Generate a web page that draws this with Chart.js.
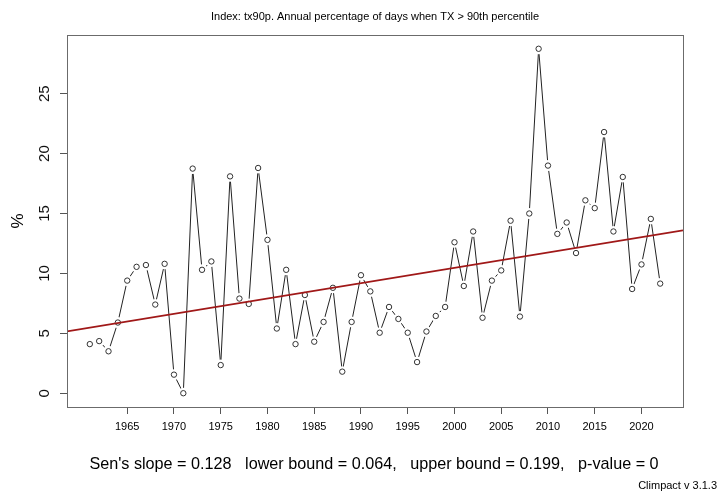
<!DOCTYPE html>
<html>
<head>
<meta charset="utf-8">
<title>tx90p</title>
<script src="https://cdn.jsdelivr.net/npm/chart.js@4.4.1/dist/chart.umd.min.js"></script>
<style>
  html, body { margin: 0; padding: 0; background: #fff; }
  #wrap { width: 720px; height: 494px; position: relative; }
</style>
</head>
<body>
<div id="wrap"><canvas id="chart"></canvas></div>
<script>
// Data
const years = [
  1961, 1962, 1963, 1964, 1965, 1966, 1967, 1968, 1969, 1970,
  1971, 1972, 1973, 1974, 1975, 1976, 1977, 1978, 1979, 1980,
  1981, 1982, 1983, 1984, 1985, 1986, 1987, 1988, 1989, 1990,
  1991, 1992, 1993, 1994, 1995, 1996, 1997, 1998, 1999, 2000,
  2001, 2002, 2003, 2004, 2005, 2006, 2007, 2008, 2009, 2010,
  2011, 2012, 2013, 2014, 2015, 2016, 2017, 2018, 2019, 2020,
  2021, 2022
];
const tx90p = [
  4.1, 4.35, 3.5, 5.9, 9.4, 10.55, 10.7, 7.4, 10.8, 1.55,
  0.0, 18.75, 10.3, 11.0, 2.35, 18.1, 7.9, 7.45, 18.8, 12.8,
  5.4, 10.3, 4.1, 8.2, 4.3, 5.95, 8.8, 1.8, 5.95, 9.85,
  8.5, 5.05, 7.2, 6.2, 5.05, 2.6, 5.15, 6.45, 7.2, 12.6,
  8.95, 13.5, 6.3, 9.4, 10.25, 14.4, 6.4, 15.0, 28.75, 19.0,
  13.3, 14.25, 11.7, 16.1, 15.45, 21.8, 13.5, 18.05, 8.7, 10.75,
  14.55, 9.15
];
const xTicks = [1965, 1970, 1975, 1980, 1985, 1990, 1995, 2000, 2005, 2010, 2015, 2020];
const yTicks = [0, 5, 10, 15, 20, 25];

// Sen's slope trend: value = trendIntercept + trendSlope * year
const trendSlope = 0.128;
const trendIntercept = -245.53;

const titleText = 'Index: tx90p. Annual percentage of days when TX > 90th percentile';
const statsText = "Sen's slope = 0.128   lower bound = 0.064,   upper bound = 0.199,   p-value = 0";
const creditText = 'Climpact v 3.1.3';

// R-style axis ranges (4% extension)
const xMin = 1958.56, xMax = 2024.44;
const yMin = -1.15, yMax = 29.9;

const FONT = "'Liberation Sans', Arial, sans-serif";

const points = years.map((y, i) => ({ x: y, y: tx90p[i] }));
const trend = [xMin, xMax].map(x => ({ x: x, y: trendIntercept + trendSlope * x }));

// box, title, y tick labels and footer texts
const decorPlugin = {
  id: 'decor',
  afterDraw(chart) {
    const ctx = chart.ctx;
    const a = chart.chartArea;
    ctx.save();
    ctx.strokeStyle = '#6b6b6b';
    ctx.lineWidth = 1;
    ctx.strokeRect(Math.round(a.left) + 0.5, Math.round(a.top) + 0.5,
      Math.round(a.right - a.left), Math.round(a.bottom - a.top));

    ctx.fillStyle = '#000';
    ctx.textBaseline = 'middle';
    ctx.textAlign = 'center';
    const cx = (a.left + a.right) / 2;
    ctx.font = '11px ' + FONT;
    ctx.fillText(titleText, cx, 17);

    ctx.font = '16.2px ' + FONT;
    ctx.fillText(statsText, cx - 1, 465);

    ctx.font = '11px ' + FONT;
    ctx.textAlign = 'right';
    ctx.fillText(creditText, 717, 486);

    // rotated y tick labels, like R's las=0
    const ys = chart.scales.y;
    ctx.font = '15px ' + FONT;
    ctx.textAlign = 'center';
    ctx.fillStyle = '#111';
    ys.ticks.forEach(t => {
      const py = ys.getPixelForValue(t.value);
      ctx.save();
      ctx.translate(45, py);
      ctx.rotate(-Math.PI / 2);
      ctx.fillText(String(t.value), 0, 0);
      ctx.restore();
    });
    ctx.restore();
  }
};

new Chart(document.getElementById('chart'), {
  type: 'scatter',
  data: {
    datasets: [
      {
        label: 'line',
        data: points,
        showLine: true,
        borderColor: '#222',
        borderWidth: 1,
        pointRadius: 0,
        order: 3
      },
      {
        label: 'gap',
        data: points,
        showLine: false,
        pointRadius: 5.5,
        pointBackgroundColor: '#fff',
        pointBorderColor: '#fff',
        pointBorderWidth: 0,
        order: 2
      },
      {
        label: 'tx90p',
        data: points,
        showLine: false,
        pointRadius: 2.7,
        pointBackgroundColor: '#fff',
        pointBorderColor: '#333',
        pointBorderWidth: 1,
        order: 1
      },
      {
        label: 'trend',
        data: trend,
        showLine: true,
        borderColor: '#a01818',
        borderWidth: 1.7,
        pointRadius: 0,
        order: 0
      }
    ]
  },
  options: {
    responsive: true,
    maintainAspectRatio: false,
    animation: false,
    layout: { padding: { left: 0, right: 37, top: 35, bottom: 0 } },
    plugins: {
      legend: { display: false },
      tooltip: { enabled: false },
      title: { display: false }
    },
    scales: {
      x: {
        type: 'linear',
        min: xMin,
        max: xMax,
        afterBuildTicks: s => { s.ticks = xTicks.map(v => ({ value: v })); },
        afterFit: s => { s.height = 87; },
        border: { display: false },
        grid: { drawOnChartArea: false, drawTicks: true, tickLength: 7, color: '#555' },
        ticks: {
          color: '#000',
          font: { family: FONT, size: 11 },
          padding: 6,
          maxRotation: 0,
          autoSkip: false,
          callback: v => String(v)
        }
      },
      y: {
        type: 'linear',
        min: yMin,
        max: yMax,
        afterBuildTicks: s => { s.ticks = yTicks.map(v => ({ value: v })); },
        afterFit: s => { s.width = 67; },
        border: { display: false },
        grid: { drawOnChartArea: false, drawTicks: true, tickLength: 7, color: '#555' },
        ticks: { display: false },
        title: {
          display: true,
          text: '%',
          color: '#000',
          font: { family: FONT, size: 17 },
          padding: { top: 8, bottom: 0 }
        }
      }
    }
  },
  plugins: [decorPlugin]
});
</script>
</body>
</html>
